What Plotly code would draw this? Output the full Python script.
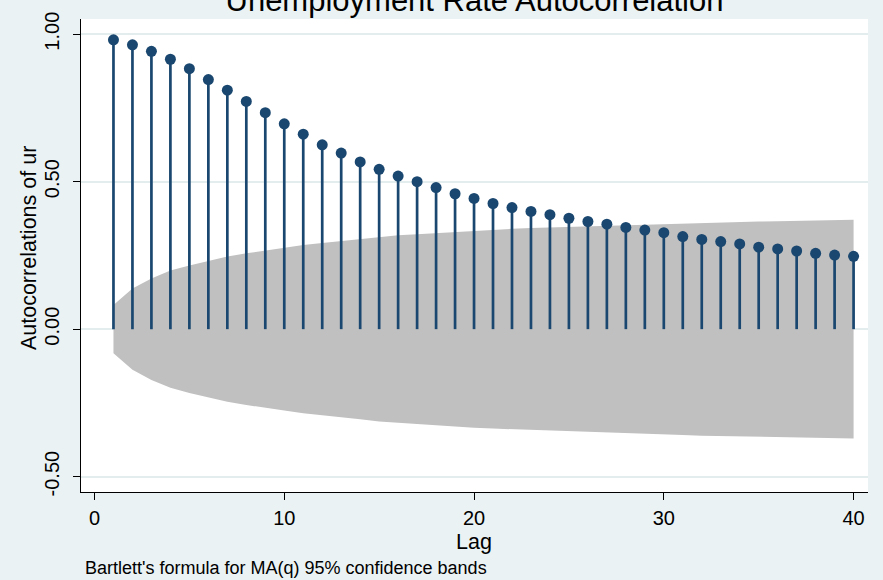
import plotly.graph_objects as go

# Autocorrelation of the unemployment rate, lags 1-40
lags = list(range(1, 41))
ac = [0.981, 0.964, 0.942, 0.915, 0.883, 0.846, 0.810, 0.772, 0.734, 0.696,
      0.661, 0.625, 0.597, 0.567, 0.542, 0.519, 0.500, 0.480, 0.459, 0.443,
      0.426, 0.412, 0.399, 0.388, 0.376, 0.365, 0.356, 0.345, 0.336, 0.327,
      0.314, 0.304, 0.297, 0.289, 0.278, 0.272, 0.265, 0.257, 0.251, 0.247]
# Half-width of the 95% confidence band (Bartlett) at each lag
band = [0.082, 0.138, 0.172, 0.199, 0.216, 0.232, 0.246, 0.257, 0.267, 0.276,
        0.285, 0.292, 0.299, 0.305, 0.313, 0.318, 0.322, 0.326, 0.330, 0.334,
        0.337, 0.340, 0.343, 0.345, 0.347, 0.349, 0.351, 0.353, 0.355, 0.357,
        0.359, 0.361, 0.362, 0.363, 0.365, 0.366, 0.367, 0.368, 0.370, 0.371]

y_ticks = [-0.5, 0.0, 0.5, 1.0]
y_tick_text = ["-0.50", "0.00", "0.50", "1.00"]
x_ticks = [0, 10, 20, 30, 40]

FONT = "Liberation Sans, Arial, sans-serif"
NAVY = "#1a476f"
BG = "#eaf2f3"

# plot area in pixels: x 81..868, y 15..492
PX_L, PX_W, PX_T, PX_H = 81, 787, 15, 477


def px_x(px):
    return (px - PX_L) / PX_W


def px_y(py):
    return (PX_T + PX_H - py) / PX_H


fig = go.Figure()

# shaded confidence band
fig.add_trace(go.Scatter(
    x=lags + lags[::-1],
    y=band + [-b for b in band[::-1]],
    fill="toself", fillcolor="#c0c0c0",
    line=dict(width=0), mode="lines",
    hoverinfo="skip", showlegend=False,
))

# spikes from zero with dot markers
fig.add_trace(go.Scatter(
    x=lags, y=ac, mode="markers",
    marker=dict(size=11, color=NAVY),
    error_y=dict(type="data", symmetric=False,
                 array=[0] * len(ac), arrayminus=ac,
                 width=0, thickness=2.7, color=NAVY),
    showlegend=False,
))

fig.update_layout(
    width=883, height=580,
    margin=dict(l=PX_L, r=883 - PX_L - PX_W, t=PX_T, b=580 - PX_T - PX_H),
    paper_bgcolor=BG, plot_bgcolor="white",
    font=dict(family=FONT, color="black"),
    title=dict(text="Unemployment Rate Autocorrelation",
               font=dict(size=31, color="black", family=FONT),
               x=0.5, xref="paper", xanchor="center",
               y=1.0, yref="container", yanchor="middle"),
    xaxis=dict(
        range=[-0.711, 40.76],
        tickvals=x_ticks, ticks="outside", ticklen=7, tickcolor="black",
        tickfont=dict(size=20), showgrid=False, zeroline=False,
        showline=True, linecolor="black", linewidth=1,
        ticklabelstandoff=1,
    ),
    yaxis=dict(
        range=[-0.552, 1.0514],
        tickvals=y_ticks, ticktext=y_tick_text,
        ticks="outside", ticklen=7, tickcolor="black", tickangle=-90,
        tickfont=dict(size=20), showgrid=True, gridcolor="#e4eded",
        gridwidth=1.5, zeroline=False,
        showline=True, linecolor="black", linewidth=1,
        ticklabelstandoff=6,
    ),
    annotations=[
        dict(text="Autocorrelations of ur", textangle=-90,
             xref="paper", yref="paper", x=px_x(29), y=px_y(246),
             xanchor="center", yanchor="middle", showarrow=False,
             font=dict(size=21.5, color="black", family=FONT)),
        dict(text="Lag",
             xref="paper", yref="paper", x=px_x(474), y=px_y(542),
             xanchor="center", yanchor="middle", showarrow=False,
             font=dict(size=21.5, color="black", family=FONT)),
        dict(text="Bartlett's formula for MA(q) 95% confidence bands",
             xref="paper", yref="paper", x=px_x(83), y=px_y(569),
             xanchor="left", yanchor="middle", showarrow=False,
             font=dict(size=18, color="black", family=FONT)),
    ],
)

fig.write_html("out.html")
